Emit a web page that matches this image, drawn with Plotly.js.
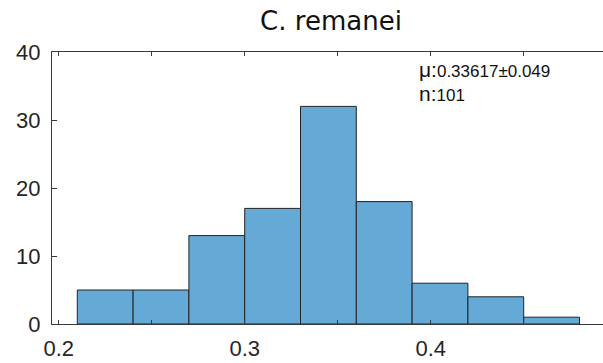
<!DOCTYPE html>
<html>
<head>
<meta charset="utf-8">
<script src="https://cdn.plot.ly/plotly-3.0.1.min.js"></script>
<style>
  html, body { margin: 0; padding: 0; background: #ffffff; }
  #chart { width: 603px; height: 363px; }
</style>
</head>
<body>
<div id="chart"></div>
<script>
// Histogram of C. remanei measurements (bin edges and counts per bin)
const binEdges = [0.21, 0.24, 0.27, 0.30, 0.33, 0.36, 0.39, 0.42, 0.45, 0.48];
const counts = [5, 5, 13, 17, 32, 18, 6, 4, 1];
const xTickVals = [0.2, 0.25, 0.3, 0.35, 0.4, 0.45];
const xTickText = ['0.2', '', '0.3', '', '0.4', ''];
const yTickVals = [0, 10, 20, 30, 40];
const titleText = 'C. remanei';
const meanText = '0.33617±0.049';
const nText = '101';

const centers = [];
const widths = [];
for (let i = 0; i < counts.length; i++) {
  centers.push((binEdges[i] + binEdges[i + 1]) / 2);
  widths.push(binEdges[i + 1] - binEdges[i]);
}

const axisColor = '#3a3a3a';
const textColor = '#262626';

const trace = {
  type: 'bar',
  x: centers,
  y: counts,
  width: widths,
  marker: {
    color: 'rgb(101,169,215)',
    line: { color: 'rgb(35,35,35)', width: 1 }
  },
  hoverinfo: 'skip'
};

// Stats box: large label followed by a smaller value, one entry per line
const big = s => '<span style="font-size:21px">' + s + '</span>';
const small = s => '<span style="font-size:17px">' + s + '</span>';
const statsText = big('μ:') + small(meanText) + '<br>' + big('n:') + small(nText);

const layout = {
  width: 603,
  height: 363,
  margin: { l: 52, r: 0, t: 52, b: 39, pad: 0 },
  paper_bgcolor: '#ffffff',
  plot_bgcolor: '#ffffff',
  showlegend: false,
  title: {
    text: titleText,
    font: { family: 'DejaVu Sans', size: 26, color: '#111111' },
    xref: 'container', x: 331 / 603, xanchor: 'center',
    yref: 'container', y: 1 - 21 / 363, yanchor: 'middle'
  },
  xaxis: {
    range: [0.19640, 0.49263],
    tickvals: xTickVals,
    ticktext: xTickText,
    ticks: 'inside',
    ticklen: 4,
    tickwidth: 1,
    tickcolor: axisColor,
    showline: true,
    linecolor: axisColor,
    linewidth: 1,
    mirror: 'ticks',
    showgrid: false,
    zeroline: false,
    ticklabelstandoff: 5,
    tickfont: { family: 'Liberation Sans, Arial, sans-serif', size: 22, color: textColor },
    layer: 'above traces'
  },
  yaxis: {
    range: [0, 40],
    tickvals: yTickVals,
    ticks: 'inside',
    ticklen: 5,
    tickwidth: 1,
    tickcolor: axisColor,
    showline: true,
    linecolor: axisColor,
    linewidth: 1,
    showgrid: false,
    zeroline: false,
    ticklabelstandoff: 6,
    tickfont: { family: 'Liberation Sans, Arial, sans-serif', size: 22, color: textColor },
    layer: 'above traces'
  },
  annotations: [
    {
      xref: 'x', yref: 'y', x: 0.3925, y: 35.6,
      xanchor: 'left', yanchor: 'middle', align: 'left', showarrow: false,
      text: statsText,
      font: { family: 'Liberation Sans, Arial, sans-serif', size: 18.5, color: '#111111' }
    }
  ]
};

Plotly.newPlot('chart', [trace], layout, { staticPlot: true, displayModeBar: false });
</script>
</body>
</html>
